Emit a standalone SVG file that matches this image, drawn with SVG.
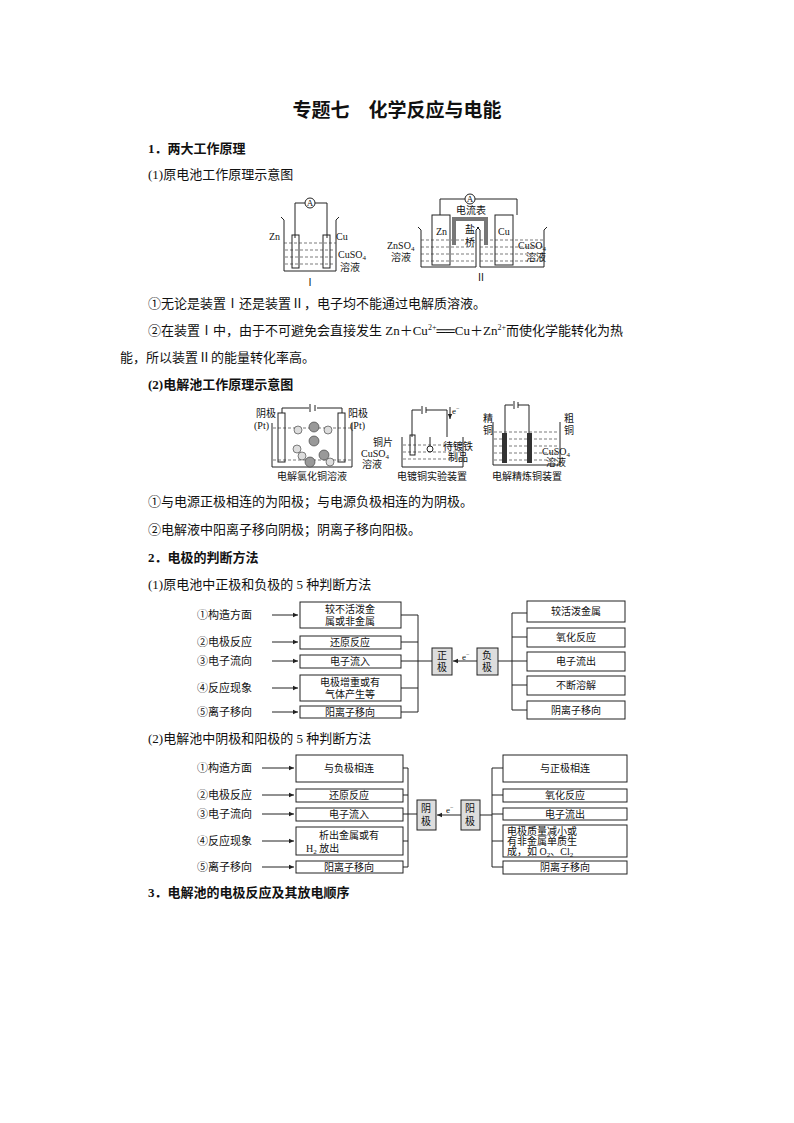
<svg xmlns="http://www.w3.org/2000/svg" width="794" height="1123" viewBox="0 0 794 1123">
<defs>
<style>
text{font-family:"Liberation Serif","Noto Sans CJK SC",serif;fill:#111}
.t{font-size:13px}
.b{font-size:13px;font-weight:bold}
.s{font-size:10px}
.m{font-size:11px}
.xs{font-size:9px}
.box{fill:#fff;stroke:#222;stroke-width:1}
.gb{fill:#ddd;stroke:#222;stroke-width:1}
.ln{fill:none;stroke:#222;stroke-width:1}
.liq{fill:none;stroke:#444;stroke-width:0.7;stroke-dasharray:3 2}
</style>
<marker id="ar" markerWidth="6" markerHeight="6" refX="5" refY="3" orient="auto"><path d="M0,0.8 L5,3 L0,5.2z" fill="#222"/></marker>
</defs>
<rect width="794" height="1123" fill="#fff"/>
<text x="397" y="117" text-anchor="middle" style="font-size:19px;font-weight:bold">专题七　化学反应与电能</text>
<text x="148" y="153" class="b">1．两大工作原理</text>
<text x="148" y="179" class="t">(1)原电池工作原理示意图</text>

<g id="cell1">
<circle cx="310" cy="203" r="5" class="ln"/><text x="310" y="206" class="xs" text-anchor="middle">A</text>
<path d="M295,238 V203 H305 M315,203 H327 V238" class="ln"/>
<path d="M281,217 L284,220 V271 H336 V220 L339,217" class="ln"/>
<path d="M284,243 H336 M285,250 H335 M285,257 H335 M285,264 H335" class="liq"/>
<rect x="292" y="235" width="7" height="33" class="ln"/>
<rect x="323" y="235" width="7" height="33" class="ln"/>
<text x="269" y="240" class="s">Zn</text><text x="336" y="240" class="s">Cu</text>
<text x="338" y="258" class="s">CuSO<tspan font-size="7" dy="2">4</tspan></text>
<text x="340" y="271" class="s">溶液</text>
<text x="310" y="286" class="s" text-anchor="middle">Ⅰ</text>
</g>
<g id="cell2">
<circle cx="470" cy="199" r="5" class="ln"/><text x="470" y="202" class="xs" text-anchor="middle">A</text>
<path d="M440,215 V199 H465 M475,199 H517 V215" class="ln"/>
<path d="M418,227 L421,230 V267 H476 V230 L479,227" class="ln"/>
<path d="M477,227 L480,230 V267 H544 V230 L547,227" class="ln"/>
<path d="M421,240 H476 M421,247 H476 M421,254 H476 M421,261 H476 M480,240 H544 M480,247 H544 M480,254 H544 M480,261 H544" class="liq"/>
<rect x="432" y="215" width="18" height="50" class="ln"/>
<rect x="495" y="215" width="18" height="50" class="ln"/>
<path d="M454,245 V219 H486 V245" fill="none" stroke="#777" stroke-width="4"/>
<text x="436" y="235" class="s">Zn</text><text x="498" y="235" class="s">Cu</text>
<text x="456" y="214" class="s">电流表</text>
<text x="465" y="233" class="s">盐</text><text x="465" y="246" class="s">桥</text>
<text x="387" y="249" class="s">ZnSO<tspan font-size="7" dy="2">4</tspan></text>
<text x="391" y="261" class="s">溶液</text>
<text x="518" y="249" class="s">CuSO<tspan font-size="7" dy="2">4</tspan></text>
<text x="526" y="261" class="s">溶液</text>
<text x="481" y="281" class="s" text-anchor="middle">Ⅱ</text>
</g>

<text x="148" y="308" class="t">①无论是装置Ⅰ还是装置Ⅱ，电子均不能通过电解质溶液。</text>
<text x="148" y="335" class="t">②在装置Ⅰ中，由于不可避免会直接发生 Zn＋Cu<tspan font-size="8" dy="-5">2+</tspan><tspan dy="5">══Cu＋Zn</tspan><tspan font-size="8" dy="-5">2+</tspan><tspan dy="5">而使化学能转化为热</tspan></text>
<text x="120" y="362" class="t">能，所以装置Ⅱ的能量转化率高。</text>
<text x="148" y="389" class="b">(2)电解池工作原理示意图</text>

<g id="cellA">
<path d="M282,413 V408 H309 M317,408 H342 V413 M310,404 V412 M315,405 V411" class="ln"/>
<path d="M272,423 V467 H352 V423" class="ln"/>
<path d="M273,428 H351 M273,460 H351" class="liq"/>
<rect x="278" y="413" width="7" height="49" class="ln"/>
<rect x="338" y="413" width="7" height="49" class="ln"/>
<g fill="#999" stroke="#333" stroke-width="0.6">
<circle cx="314" cy="427" r="5"/><circle cx="314" cy="441" r="5"/><circle cx="324" cy="455" r="5"/><circle cx="310" cy="462" r="5"/>
<circle cx="298" cy="430" r="4" fill="#ddd"/><circle cx="297" cy="449" r="4" fill="#ddd"/><circle cx="302" cy="456" r="4" fill="#ddd"/><circle cx="328" cy="430" r="4" fill="#ddd"/><circle cx="330" cy="462" r="4" fill="#ddd"/>
</g>
<text x="256" y="417" class="s">阴极</text><text x="254" y="429" class="s">(Pt)</text>
<text x="348" y="417" class="s">阳极</text><text x="350" y="429" class="s">(Pt)</text>
<text x="312" y="480" class="s" text-anchor="middle">电解氯化铜溶液</text>
</g>
<g id="cellB">
<path d="M412,437 V410 H421 M426,410 H447 V437 M422,406 V414 M426,407 V413" class="ln"/>
<path d="M450,407 V419" class="ln" marker-end="url(#ar)"/><text x="452" y="414" class="xs">e<tspan font-size="6" dy="-4">−</tspan></text>
<path d="M402,437 V467 H463 V437" class="ln"/>
<path d="M403,445 H462 M403,452 H462 M403,459 H462" class="liq"/>
<rect x="410" y="435" width="5" height="20" class="ln"/>
<path d="M430,437 V446" class="ln"/><circle cx="430" cy="449" r="3" class="ln"/>
<text x="373" y="446" class="s">铜片</text>
<text x="361" y="457" class="s">CuSO<tspan font-size="7" dy="2">4</tspan></text><text x="362" y="468" class="s">溶液</text>
<text x="443" y="450" class="s">待镀铁</text><text x="448" y="461" class="s">制品</text>
<text x="432" y="480" class="s" text-anchor="middle">电镀铜实验装置</text>
</g>
<g id="cellC">
<path d="M505,433 V405 H513 M518,405 H529 V433 M514,401 V409 M518,402 V408" class="ln"/>
<path d="M493,422 V465 H560 V422" class="ln"/>
<path d="M494,432 H559 M494,439 H559 M494,446 H559 M494,453 H559 M494,460 H559" class="liq"/>
<rect x="502" y="433" width="5" height="30" fill="#333"/>
<rect x="527" y="433" width="5" height="30" fill="#333"/>
<text x="483" y="422" class="s">精</text><text x="483" y="434" class="s">铜</text>
<text x="564" y="422" class="s">粗</text><text x="564" y="434" class="s">铜</text>
<text x="542" y="455" class="s">CuSO<tspan font-size="7" dy="2">4</tspan></text><text x="546" y="466" class="s">溶液</text>
<text x="527" y="480" class="s" text-anchor="middle">电解精炼铜装置</text>
</g>

<text x="148" y="506" class="t">①与电源正极相连的为阳极；与电源负极相连的为阴极。</text>
<text x="148" y="534" class="t">②电解液中阳离子移向阴极；阴离子移向阳极。</text>
<text x="148" y="562" class="b">2．电极的判断方法</text>
<text x="148" y="589" class="t">(1)原电池中正极和负极的 5 种判断方法</text>

<g id="chart1">
<g class="m">
<text x="197" y="619">①构造方面</text><text x="197" y="646">②电极反应</text><text x="197" y="665">③电子流向</text><text x="197" y="692">④反应现象</text><text x="197" y="716">⑤离子移向</text>
</g>
<g id="c1l">
<rect x="300" y="602" width="101" height="26" class="box"/><text x="350" y="613" class="s" text-anchor="middle">较不活泼金</text><text x="350" y="625" class="s" text-anchor="middle">属或非金属</text>
<rect x="300" y="636" width="101" height="13" class="box"/><text x="350" y="646" class="s" text-anchor="middle">还原反应</text>
<rect x="300" y="655" width="101" height="13" class="box"/><text x="350" y="665" class="s" text-anchor="middle">电子流入</text>
<rect x="300" y="675" width="101" height="26" class="box"/><text x="350" y="686" class="s" text-anchor="middle">电极增重或有</text><text x="350" y="698" class="s" text-anchor="middle">气体产生等</text>
<rect x="300" y="706" width="101" height="12" class="box"/><text x="350" y="716" class="s" text-anchor="middle">阳离子移向</text>
</g>
<rect x="432" y="648" width="20" height="27" class="gb"/><text x="442" y="659" class="s" text-anchor="middle">正</text><text x="442" y="671" class="s" text-anchor="middle">极</text>
<rect x="477" y="648" width="21" height="27" class="gb"/><text x="487" y="659" class="s" text-anchor="middle">负</text><text x="487" y="671" class="s" text-anchor="middle">极</text>
<text x="462" y="660" class="xs">e<tspan font-size="6" dy="-4">−</tspan></text>
<g id="c1r">
<rect x="527" y="601" width="98" height="21" class="box"/><text x="576" y="615" class="s" text-anchor="middle">较活泼金属</text>
<rect x="527" y="628" width="98" height="19" class="box"/><text x="576" y="641" class="s" text-anchor="middle">氧化反应</text>
<rect x="527" y="652" width="98" height="19" class="box"/><text x="576" y="665" class="s" text-anchor="middle">电子流出</text>
<rect x="527" y="676" width="98" height="19" class="box"/><text x="576" y="689" class="s" text-anchor="middle">不断溶解</text>
<rect x="527" y="701" width="98" height="18" class="box"/><text x="576" y="714" class="s" text-anchor="middle">阴离子移向</text>
</g>
</g>
<g id="connectors1">
<path d="M272,615 H298" class="ln" marker-end="url(#ar)"/>
<path d="M272,642 H298" class="ln" marker-end="url(#ar)"/>
<path d="M272,661 H298" class="ln" marker-end="url(#ar)"/>
<path d="M272,688 H298" class="ln" marker-end="url(#ar)"/>
<path d="M272,712 H298" class="ln" marker-end="url(#ar)"/>
<path d="M401,615 H418 M401,642 H418 M401,661 H432 M401,688 H418 M401,712 H418 M418,615 V712" class="ln"/>
<path d="M477,661 H453" class="ln" marker-end="url(#ar)"/>
<path d="M498,661 H512 M512,613 V710 M512,613 H527 M512,637 H527 M512,661 H527 M512,685 H527 M512,710 H527" class="ln"/>
</g>

<text x="148" y="743" class="t">(2)电解池中阴极和阳极的 5 种判断方法</text>

<g id="chart2">
<g class="m">
<text x="197" y="772">①构造方面</text><text x="197" y="799">②电极反应</text><text x="197" y="818">③电子流向</text><text x="197" y="845">④反应现象</text><text x="197" y="871">⑤离子移向</text>
</g>
<g id="c2l">
<rect x="296" y="755" width="107" height="27" class="box"/><text x="349" y="772" class="s" text-anchor="middle">与负极相连</text>
<rect x="296" y="789" width="107" height="13" class="box"/><text x="349" y="799" class="s" text-anchor="middle">还原反应</text>
<rect x="296" y="808" width="107" height="13" class="box"/><text x="349" y="818" class="s" text-anchor="middle">电子流入</text>
<rect x="296" y="827" width="107" height="28" class="box"/><text x="349" y="839" class="s" text-anchor="middle">析出金属或有</text><text x="306" y="852" class="s">H<tspan font-size="7" dy="2">2</tspan><tspan dy="-2"> 放出</tspan></text>
<rect x="296" y="861" width="107" height="12" class="box"/><text x="349" y="871" class="s" text-anchor="middle">阳离子移向</text>
</g>
<rect x="417" y="800" width="19" height="30" class="gb"/><text x="426" y="812" class="s" text-anchor="middle">阴</text><text x="426" y="825" class="s" text-anchor="middle">极</text>
<rect x="461" y="800" width="19" height="30" class="gb"/><text x="470" y="812" class="s" text-anchor="middle">阳</text><text x="470" y="825" class="s" text-anchor="middle">极</text>
<text x="446" y="813" class="xs">e<tspan font-size="6" dy="-4">−</tspan></text>
<g id="c2r">
<rect x="503" y="755" width="124" height="27" class="box"/><text x="565" y="772" class="s" text-anchor="middle">与正极相连</text>
<rect x="503" y="789" width="124" height="13" class="box"/><text x="565" y="799" class="s" text-anchor="middle">氧化反应</text>
<rect x="503" y="808" width="124" height="12" class="box"/><text x="565" y="818" class="s" text-anchor="middle">电子流出</text>
<rect x="503" y="825" width="124" height="32" class="box"/><text x="507" y="835" class="s">电极质量减小或</text><text x="507" y="845" class="s">有非金属单质生</text><text x="507" y="855" class="s">成，如 O<tspan font-size="7" dy="2">2</tspan><tspan dy="-2">、Cl</tspan><tspan font-size="7" dy="2">2</tspan></text>
<rect x="503" y="861" width="124" height="13" class="box"/><text x="565" y="871" class="s" text-anchor="middle">阴离子移向</text>
</g>
</g>
<g id="connectors2">
<path d="M262,768 H294" class="ln" marker-end="url(#ar)"/>
<path d="M262,795 H294" class="ln" marker-end="url(#ar)"/>
<path d="M262,814 H294" class="ln" marker-end="url(#ar)"/>
<path d="M262,841 H294" class="ln" marker-end="url(#ar)"/>
<path d="M262,867 H294" class="ln" marker-end="url(#ar)"/>
<path d="M403,768 H408 M403,795 H408 M403,814 H417 M403,841 H408 M403,867 H408 M408,768 V867" class="ln"/>
<path d="M461,815 H437" class="ln" marker-end="url(#ar)"/>
<path d="M480,815 H492 M492,768 V867 M492,768 H503 M492,795 H503 M492,814 H503 M492,841 H503 M492,867 H503" class="ln"/>
</g>

<text x="148" y="897" class="b">3．电解池的电极反应及其放电顺序</text>
</svg>
